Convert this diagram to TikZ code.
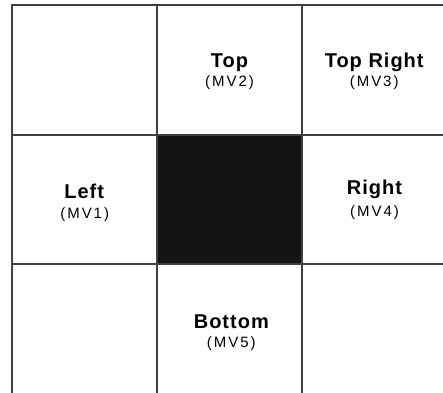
\documentclass[tikz,border=0pt]{standalone}
\usepackage{fontspec}
\setmainfont{Liberation Sans}
\newfontfamily\titlefont[LetterSpace=5]{Liberation Sans}
\newfontfamily\mvfont[LetterSpace=13]{Liberation Sans}

\begin{document}
	\begin{tikzpicture}[
		x=1pt, 
		y=-1pt, 
		line join=round, 
		line cap=rect,
		gridline/.style={draw=black!75, line width=1.2pt},
		celltitle/.style={anchor=base, inner sep=0pt, font=\titlefont\bfseries\fontsize{20}{23}\selectfont},
		celltag/.style={anchor=base, inner sep=0pt, font=\mvfont\fontsize{15}{17}\selectfont}
		]
		
		\useasboundingbox (0,0) rectangle (443,392);
		\clip (0,0) rectangle (443,392);
		
		% centre block
		\fill[black!92] (157,135) rectangle (302,264);
		
		% grid
		\foreach \x in {12,157,302,447} {
			\draw[gridline] (\x,5) -- (\x,394);
		}
		\foreach \y in {5,135,264,394} {
			\draw[gridline] (12,\y) -- (447,\y);
		}
		
		% labels
		\node[celltitle] (top) at (229.5,67.7) {Top};
		\node[celltag] (mvtwo) at (229.5,86.5) {(MV2)};
		
		\node[celltitle] (topright) at (374.2,67.7) {Top Right};
		\node[celltag] (mvthree) at (374.2,86.5) {(MV3)};
		
		\node[celltitle] (left) at (84.2,198) {Left};
		\node[celltag] (mvone) at (84.7,218) {(MV1)};
		
		\node[celltitle] (right) at (374.5,194.3) {Right};
		\node[celltag] (mvfour) at (374.5,216.3) {(MV4)};
		
		\node[celltitle] (bottom) at (231.3,328.3) {Bottom};
		\node[celltag] (mvfive) at (231.3,347.3) {(MV5)};
		
	\end{tikzpicture}
\end{document}
